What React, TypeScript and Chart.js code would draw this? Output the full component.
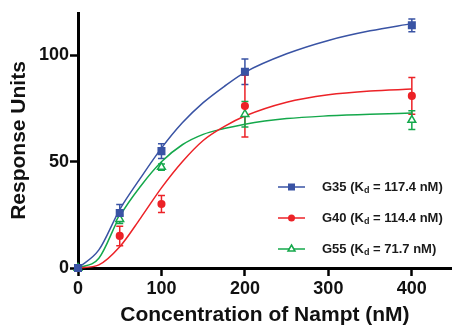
import React, { useEffect, useRef } from "react";
import { Chart, registerables } from "chart.js";

Chart.register(...registerables);

// Measured data (concentration in nM)
const concentrations = [0, 50, 100, 200, 400];
const g35Values = [0, 25.9, 55, 92.4, 114.2];
const g35Errors = [0, 4, 3.5, 6, 3];
const g40Values = [0, 15.1, 30.1, 76.2, 81];
const g40Errors = [0, 4.6, 4, 14.5, 8.6];
const g55Values = [0, 23, 47.5, 72.4, 69.6];
const g55Errors = [0, 2, 1.5, 6, 4.4];

// Fitted curves
const curveX = [0, 25, 50, 75, 100, 125, 150, 175, 200, 250, 300, 350, 400];
const g35Curve = [0, 8.5, 27.5, 42.4, 56.4, 68.3, 77.8, 85.4, 92.1, 100.8, 107.1, 111.6, 115];
const g40Curve = [0, 1.5, 10, 23.5, 37.7, 50, 60, 66.5, 71.5, 78, 81.5, 83.3, 84.2];
const g55Curve = [0, 4.6, 24.3, 38.5, 50, 58, 62.9, 65.6, 67.7, 70.3, 71.6, 72.4, 72.9];

const xTicks = [0, 100, 200, 300, 400];
const yTicks = [0, 50, 100];

const seriesNames = ["G35", "G40", "G55"];
const kdLabels = ["117.4", "114.4", "71.7"];

const BLUE = "#3953a4";
const RED = "#ec2227";
const GREEN = "#14a84b";
const colors = [BLUE, RED, GREEN];
const shapes = ["rect", "circle", "triangle"];

const FONT = "'Liberation Sans', Arial, Helvetica, sans-serif";

function drawMarker(ctx: CanvasRenderingContext2D, shape: string, x: number, y: number, color: string) {
  ctx.save();
  ctx.fillStyle = color;
  ctx.strokeStyle = color;
  ctx.lineWidth = 1.5;
  if (shape === "rect") {
    ctx.fillRect(x - 3.5, y - 3.5, 7, 7);
  } else if (shape === "circle") {
    ctx.beginPath();
    ctx.arc(x, y, 3.5, 0, Math.PI * 2);
    ctx.fill();
  } else {
    const r = 4;
    ctx.beginPath();
    ctx.moveTo(x, y - r);
    ctx.lineTo(x + r * 0.87, y + r * 0.5);
    ctx.lineTo(x - r * 0.87, y + r * 0.5);
    ctx.closePath();
    ctx.fillStyle = "#fff";
    ctx.fill();
    ctx.stroke();
  }
  ctx.restore();
}

const errorBarPlugin = {
  id: "errorBars",
  beforeDatasetsDraw(chart: any) {
    const ctx = chart.ctx as CanvasRenderingContext2D;
    const xs = chart.scales.x;
    const ys = chart.scales.y;
    const all = [
      [g35Values, g35Errors, BLUE],
      [g40Values, g40Errors, RED],
      [g55Values, g55Errors, GREEN],
    ] as [number[], number[], string][];
    ctx.save();
    ctx.lineWidth = 1.5;
    all.forEach(([vals, errs, col]) => {
      ctx.strokeStyle = col;
      concentrations.forEach((c, i) => {
        if (!errs[i]) return;
        const px = xs.getPixelForValue(c);
        const top = ys.getPixelForValue(vals[i] + errs[i]);
        const bot = ys.getPixelForValue(vals[i] - errs[i]);
        ctx.beginPath();
        ctx.moveTo(px, top);
        ctx.lineTo(px, bot);
        ctx.moveTo(px - 3.5, top);
        ctx.lineTo(px + 3.5, top);
        ctx.moveTo(px - 3.5, bot);
        ctx.lineTo(px + 3.5, bot);
        ctx.stroke();
      });
    });
    ctx.restore();
  },
};

const legendPlugin = {
  id: "customLegend",
  afterDraw(chart: any) {
    const ctx = chart.ctx as CanvasRenderingContext2D;
    const rows = [187, 218, 249];
    ctx.save();
    seriesNames.forEach((name, i) => {
      const y = rows[i];
      ctx.strokeStyle = colors[i];
      ctx.lineWidth = 1.5;
      ctx.beginPath();
      ctx.moveTo(278, y);
      ctx.lineTo(305, y);
      ctx.stroke();
      drawMarker(ctx, shapes[i], 291.5, y, colors[i]);
      ctx.fillStyle = "#1a1a1a";
      ctx.textBaseline = "middle";
      ctx.textAlign = "left";
      ctx.font = `bold 13px ${FONT}`;
      let x = 322;
      const p1 = `${name} (K`;
      ctx.fillText(p1, x, y);
      x += ctx.measureText(p1).width;
      ctx.font = `bold 9px ${FONT}`;
      ctx.fillText("d", x, y + 4);
      x += ctx.measureText("d").width;
      ctx.font = `bold 13px ${FONT}`;
      ctx.fillText(` = ${kdLabels[i]} nM)`, x, y);
    });
    ctx.restore();
  },
};

export default function App() {
  const canvasRef = useRef<HTMLCanvasElement | null>(null);

  useEffect(() => {
    if (!canvasRef.current) return;
    const toPts = (xs: number[], ys: number[]) => xs.map((x, i) => ({ x, y: ys[i] }));
    const curve = (data: number[], color: string) => ({
      data: toPts(curveX, data),
      showLine: true,
      borderColor: color,
      borderWidth: 1.5,
      pointRadius: 0,
      cubicInterpolationMode: "monotone" as const,
      clip: false as any,
      order: 2,
    });
    const pts = (data: number[], color: string, style: string, r: number, fill: string) => ({
      data: toPts(concentrations, data),
      showLine: false,
      pointStyle: style,
      pointRadius: r,
      pointBackgroundColor: fill,
      pointBorderColor: color,
      pointBorderWidth: 1.5,
      clip: false as any,
      order: 1,
    });
    const chart = new Chart(canvasRef.current, {
      type: "scatter",
      data: {
        datasets: [
          curve(g35Curve, BLUE),
          curve(g40Curve, RED),
          curve(g55Curve, GREEN),
          pts(g35Values, BLUE, "rect", 4.6, BLUE),
          pts(g40Values, RED, "circle", 3.3, RED),
          pts(g55Values, GREEN, "triangle", 4.5, "#ffffff"),
        ] as any,
      },
      options: {
        animation: false,
        responsive: false,
        layout: { padding: { top: 13, right: 0, left: 0, bottom: 0 } },
        plugins: { legend: { display: false }, tooltip: { enabled: false } },
        scales: {
          x: {
            type: "linear",
            min: 0,
            max: 448,
            afterBuildTicks: (s: any) => {
              s.ticks = xTicks.map((v) => ({ value: v }));
            },
            afterFit: (s: any) => {
              s.height = 60;
            },
            ticks: { color: "#111", padding: 2, font: { family: FONT, size: 18, weight: "bold" } },
            grid: { drawOnChartArea: false, drawTicks: true, tickLength: 8, tickWidth: 2.5, tickColor: "#000" },
            border: { display: true, color: "#000", width: 3 },
            title: {
              display: true,
              text: "Concentration of Nampt (nM)",
              color: "#111",
              font: { family: FONT, size: 21, weight: "bold" },
              padding: { top: 0, bottom: 0 },
            },
          },
          y: {
            type: "linear",
            min: 0,
            max: 120,
            afterBuildTicks: (s: any) => {
              s.ticks = yTicks.map((v) => ({ value: v }));
            },
            afterFit: (s: any) => {
              s.width = 78;
            },
            ticks: { color: "#111", padding: 1, font: { family: FONT, size: 18, weight: "bold" } },
            grid: { drawOnChartArea: false, drawTicks: true, tickLength: 8, tickWidth: 2.5, tickColor: "#000" },
            border: { display: true, color: "#000", width: 3 },
            title: {
              display: true,
              text: "Response Units",
              color: "#111",
              font: { family: FONT, size: 21, weight: "bold" },
              padding: { top: 7, bottom: 0 },
            },
          },
        },
      } as any,
      plugins: [errorBarPlugin, legendPlugin],
    });
    return () => chart.destroy();
  }, []);

  return (
    <div style={{ position: "fixed", left: 0, top: 0, width: 458, height: 328, background: "#fff" }}>
      <canvas ref={canvasRef} width={458} height={328} />
    </div>
  );
}
